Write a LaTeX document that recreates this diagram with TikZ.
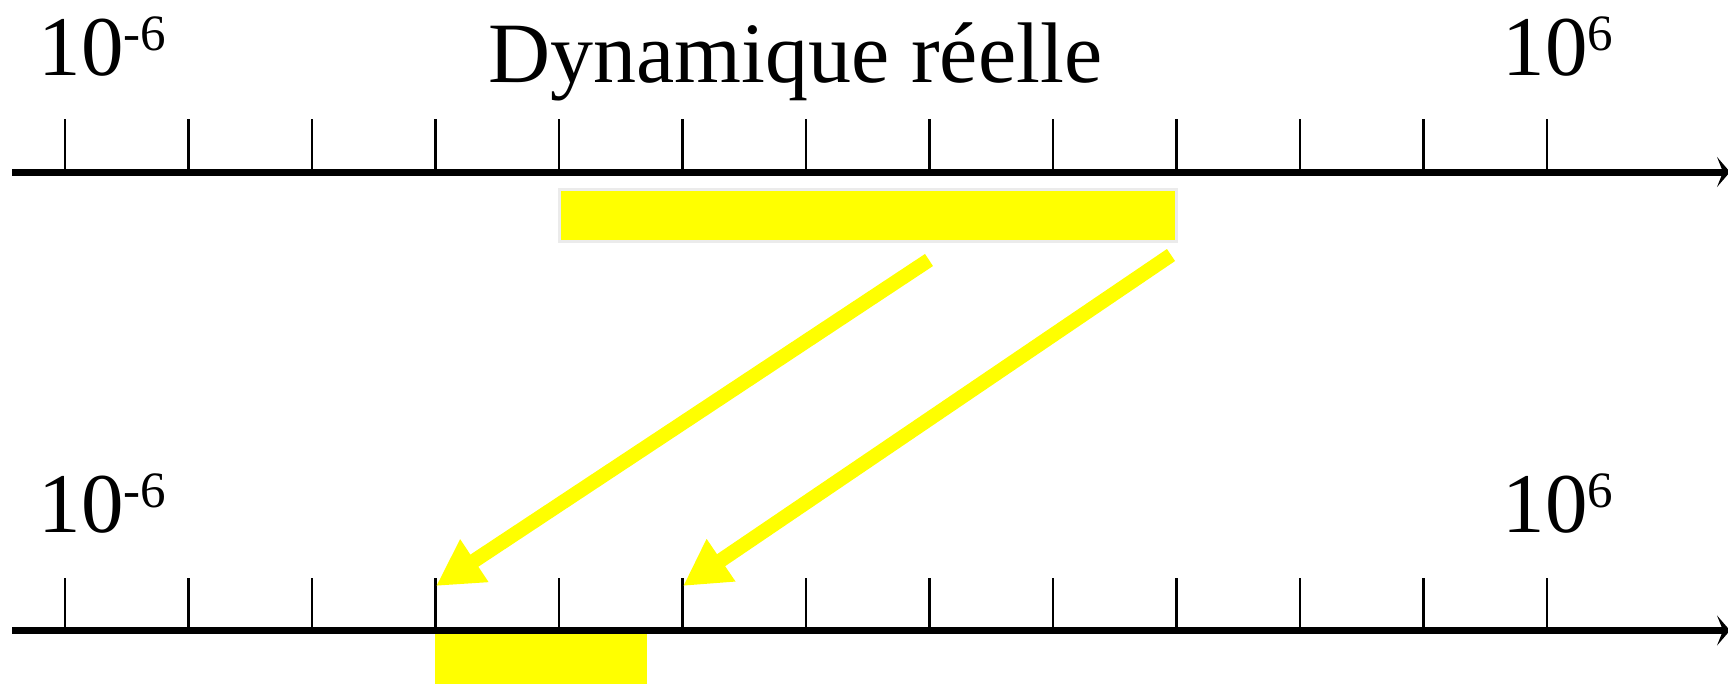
\documentclass[tikz,border=0pt]{standalone}
\usepackage{fontspec}
\setmainfont{Liberation Serif}
\usetikzlibrary{arrows.meta}
\definecolor{barY}{HTML}{FFFF00}
\definecolor{barEdge}{HTML}{EBEBEB}
\newcommand{\lbl}[1]{\fontsize{85}{85}\selectfont 10\raisebox{25pt}{\fontsize{51}{51}\selectfont #1}}
\tikzset{
  axisline/.style={line width=7pt, -{Stealth[length=13pt,width=30pt,inset=6pt]}},
  tickmark/.style={line width=2.6pt},
  maparrow/.style={draw=barY, line width=14.5pt, line cap=butt, -{Triangle[length=46pt,width=48pt]}},
  labeltext/.style={anchor=base west, inner sep=0pt, outer sep=0pt},
}
\begin{document}
\begin{tikzpicture}[x=1pt,y=-1pt]
\useasboundingbox (0,0) rectangle (1728,683);
% lower bar (behind axis)
\fill[barY] (435,631) rectangle (647,690);
% upper bar
\draw[barEdge, line width=3pt, fill=barY] (559,189.5) rectangle (1176.5,241.5);
% axes
\coordinate (a1s) at (12,172);
\coordinate (a1e) at (1730,172);
\coordinate (a2s) at (12,630.5);
\coordinate (a2e) at (1730,630.5);
\draw[axisline] (a1s) -- (a1e);
\draw[axisline] (a2s) -- (a2e);
% ticks
\foreach \i in {0,...,12} {
  \draw[tickmark] ({65+123.5*\i},119) -- ({65+123.5*\i},172);
  \draw[tickmark] ({65+123.5*\i},578) -- ({65+123.5*\i},630.5);
}
% labels
\node[labeltext] (lo1) at (38.5,75) {\lbl{-6}};
\node[labeltext] (hi1) at (1502.5,75) {\lbl{6}};
\node[labeltext] (title) at (488.5,82) {\fontsize{86}{86}\selectfont Dynamique réelle};
\node[labeltext] (lo2) at (38.5,532) {\lbl{-6}};
\node[labeltext] (hi2) at (1502.5,532) {\lbl{6}};
% mapping arrows
\coordinate (s1) at (929,260);
\coordinate (t1) at (436,586);
\coordinate (s2) at (1171,255);
\coordinate (t2) at (683,586);
\draw[maparrow] (s1) -- (t1);
\draw[maparrow] (s2) -- (t2);
\end{tikzpicture}
\end{document}
